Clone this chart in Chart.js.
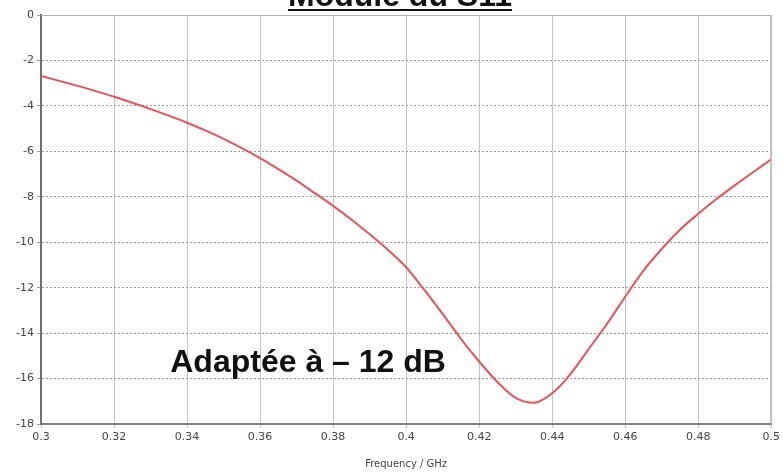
<!DOCTYPE html>
<html lang="fr">
<head>
    <meta charset="UTF-8">
    <title>Module du S11</title>
    <script src="https://cdn.jsdelivr.net/npm/chart.js"></script>
    <style>
        html, body { margin: 0; padding: 0; background: #fff; }
        #wrap { width: 783px; height: 474px; position: relative; }
    </style>
</head>
<body>
    <div id="wrap"><canvas id="s11Chart"></canvas></div>

    <script>
        // Données (GHz / dB)
        const freqs = [0.300, 0.305, 0.310, 0.315, 0.320, 0.325, 0.330, 0.335, 0.340, 0.345,
                       0.350, 0.355, 0.360, 0.365, 0.370, 0.375, 0.380, 0.385, 0.390, 0.395,
                       0.400, 0.405, 0.410, 0.415, 0.420, 0.425, 0.430, 0.435, 0.440, 0.445,
                       0.450, 0.455, 0.460, 0.465, 0.470, 0.475, 0.480, 0.485, 0.490, 0.495, 0.500];
        const s11dB = [-2.68, -2.90, -3.12, -3.35, -3.60, -3.86, -4.14, -4.43, -4.74, -5.08,
                       -5.45, -5.86, -6.30, -6.78, -7.29, -7.84, -8.40, -9.00, -9.65, -10.33,
                       -11.10, -12.10, -13.15, -14.25, -15.25, -16.15, -16.85, -17.07, -16.65, -15.80,
                       -14.70, -13.60, -12.40, -11.25, -10.30, -9.45, -8.75, -8.10, -7.50, -6.92, -6.35];
        const xTicks = [0.3, 0.32, 0.34, 0.36, 0.38, 0.4, 0.42, 0.44, 0.46, 0.48, 0.5];
        const yTicks = [0, -2, -4, -6, -8, -10, -12, -14, -16, -18];

        const titre = 'Module du S11';
        const note = 'Adaptée à – 12 dB';

        const points = freqs.map((f, i) => ({ x: f, y: s11dB[i] }));

        // Titre coupé en haut, cadre et annotation
        const decor = {
            id: 'decor',
            afterDraw(chart) {
                const ctx = chart.ctx;
                const a = chart.chartArea;
                ctx.save();
                ctx.strokeStyle = '#b0b0b0';
                ctx.lineWidth = 1;
                ctx.beginPath();
                ctx.moveTo(a.left, a.top + 0.5);
                ctx.lineTo(a.right - 0.5, a.top + 0.5);
                ctx.lineTo(a.right - 0.5, a.bottom);
                ctx.stroke();

                ctx.fillStyle = '#111';
                ctx.font = 'bold 32px "Liberation Sans", Arial, sans-serif';
                ctx.textAlign = 'center';
                ctx.textBaseline = 'alphabetic';
                ctx.fillText(titre, 400, 6);
                const w = ctx.measureText(titre).width;
                ctx.fillRect(400 - w / 2, 9, w, 2);

                const xs = chart.scales.x, ys = chart.scales.y;
                ctx.font = 'bold 32px "Liberation Sans", Arial, sans-serif';
                ctx.textAlign = 'left';
                ctx.fillText(note, xs.getPixelForValue(0.3354), ys.getPixelForValue(-15.7));
                ctx.restore();
            }
        };

        new Chart(document.getElementById('s11Chart'), {
            type: 'line',
            data: {
                datasets: [{
                    data: points,
                    borderColor: '#e8525a',
                    borderWidth: 2,
                    pointRadius: 0,
                    fill: false,
                    cubicInterpolationMode: 'monotone'
                }]
            },
            options: {
                responsive: true,
                maintainAspectRatio: false,
                animation: false,
                layout: { padding: { top: 15, right: 8, left: 0, bottom: 0 } },
                plugins: {
                    legend: { display: false },
                    tooltip: { enabled: false }
                },
                scales: {
                    x: {
                        type: 'linear',
                        min: 0.3,
                        max: 0.5,
                        afterBuildTicks: (axis) => { axis.ticks = xTicks.map(v => ({ value: v })); },
                        afterFit: (axis) => { axis.height = 50; },
                        ticks: {
                            color: '#444',
                            font: { size: 11, family: '"DejaVu Sans", sans-serif' },
                            padding: 3,
                            maxRotation: 0,
                            callback: (v) => String(Math.round(v * 100) / 100)
                        },
                        grid: { color: '#c4c4c4', tickLength: 4 },
                        border: { color: '#808080', width: 2 },
                        title: {
                            display: true,
                            text: 'Frequency / GHz',
                            color: '#444',
                            font: { size: 10, family: '"DejaVu Sans", sans-serif' },
                            padding: { top: 4 }
                        }
                    },
                    y: {
                        min: -18,
                        max: 0,
                        afterBuildTicks: (axis) => { axis.ticks = yTicks.map(v => ({ value: v })); },
                        afterFit: (axis) => { axis.width = 41; },
                        ticks: {
                            color: '#444',
                            font: { size: 11, family: '"DejaVu Sans", sans-serif' },
                            padding: 3
                        },
                        grid: { color: '#9a9a9a', tickLength: 4 },
                        border: { color: '#707070', width: 2, dash: [2, 2] }
                    }
                }
            },
            plugins: [decor]
        });
    </script>
</body>
</html>
